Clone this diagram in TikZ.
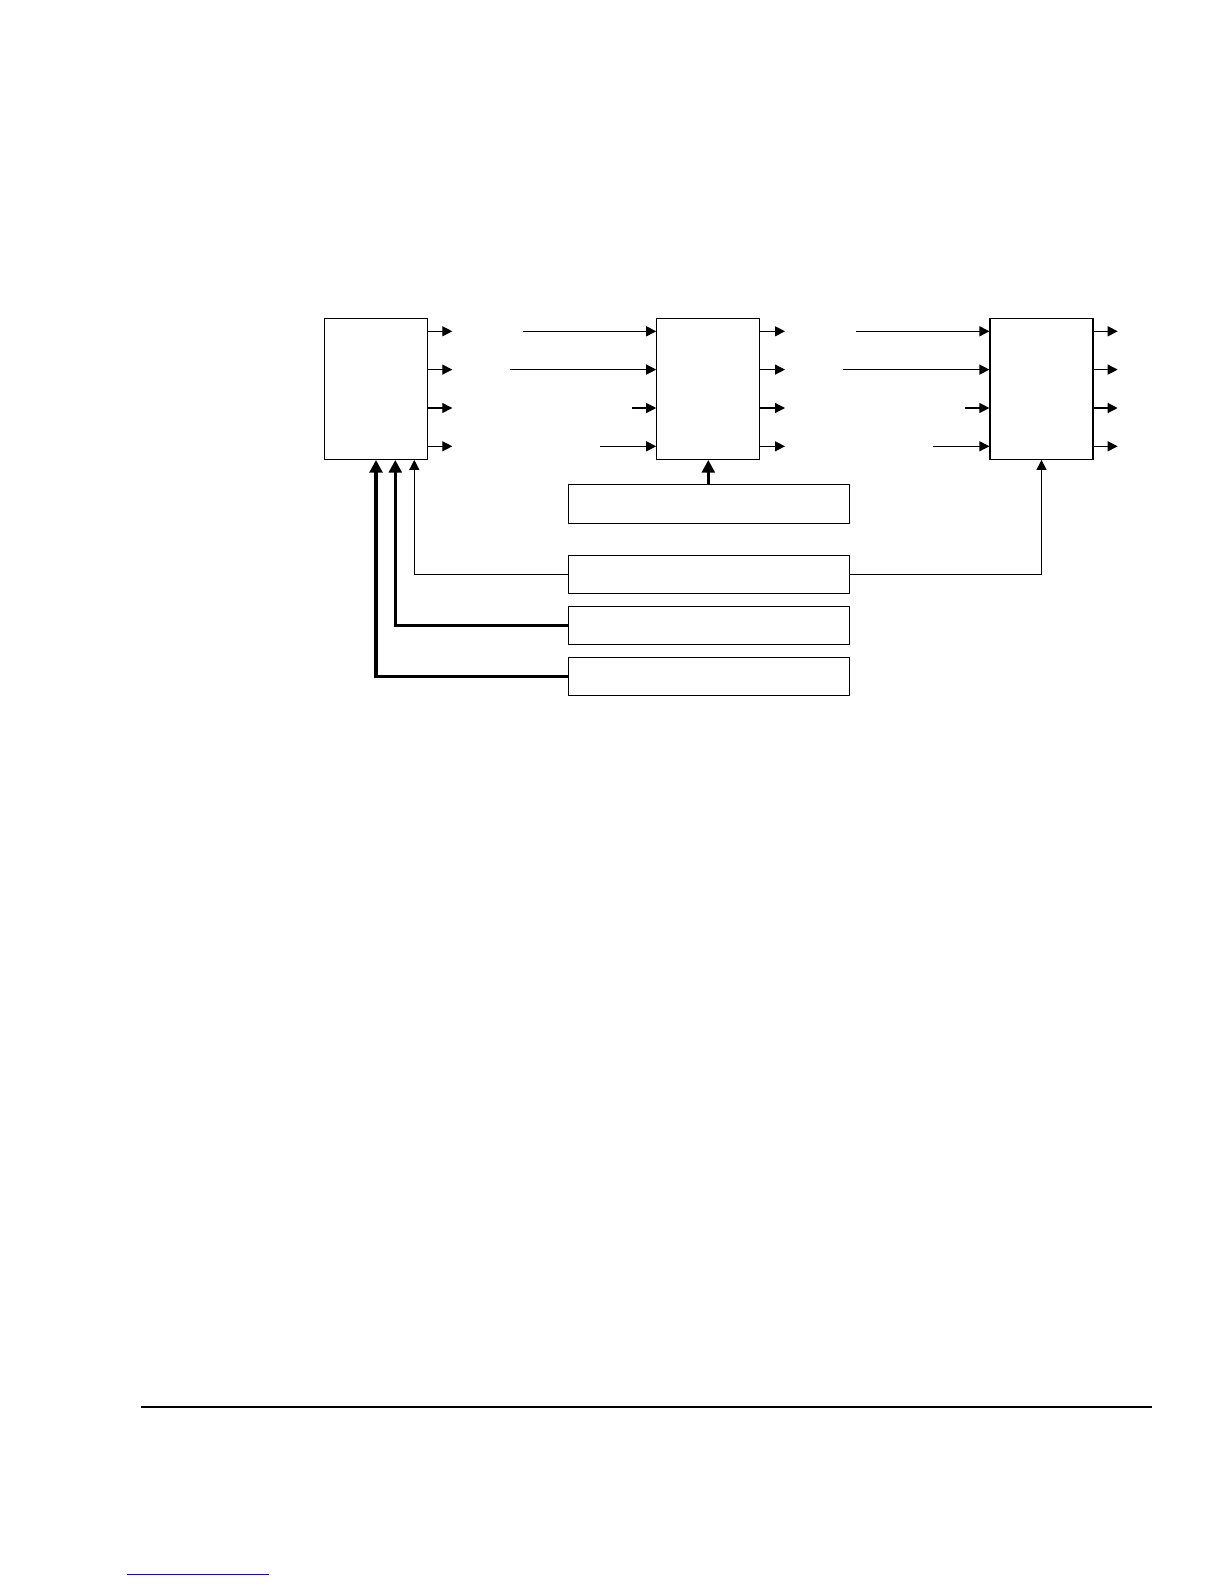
\documentclass[tikz,border=0pt]{standalone}
\usetikzlibrary{arrows.meta}
\begin{document}
\begin{tikzpicture}[x=0.5pt,y=-0.5pt,
  blk/.style={draw,line width=0.6pt,inner sep=0pt,minimum width=51.5pt,minimum height=70.5pt},
  bar/.style={draw,line width=0.6pt,inner sep=0pt,minimum width=140.5pt,minimum height=19pt},
  thinarr/.style={line width=0.6pt,-{Triangle[length=5pt,width=5pt]}},
  thickarr/.style={line width=1.6pt,-{Triangle[length=6.3pt,width=6.3pt]}}]
\useasboundingbox (0,0) rectangle (1224,1584);
% main blocks
\node[blk] (b1) at (376,388.8) {};
\node[blk] (b2) at (708.3,388.8) {};
\node[blk] (b3) at (1041.5,388.8) {};
% bars
\node[bar,minimum height=19.6pt] (bA) at (708.8,503.7) {};
\node[bar] (bB) at (708.8,574.3) {};
\node[bar] (bC) at (708.8,625.3) {};
\node[bar] (bD) at (708.8,676.5) {};
% outputs
\foreach \yy [count=\i] in {331.3,369.6,408,446.3} {
  \coordinate (oa\i) at (452.3,\yy);
  \coordinate (ob\i) at (785,\yy);
  \coordinate (oc\i) at (1117.7,\yy);
  \draw[thinarr] (b1.east |- oa\i) -- (oa\i);
  \draw[thinarr] (b2.east |- ob\i) -- (ob\i);
  \draw[thinarr] (b3.east |- oc\i) -- (oc\i);
}
% inputs
\foreach \yy/\xa/\xb [count=\i] in {331.3/523/856,369.6/510/843.3,408/632.3/965.3,446.3/600/933} {
  \coordinate (ia\i) at (\xa,\yy);
  \coordinate (ib\i) at (\xb,\yy);
  \draw[thinarr] (ia\i) -- (b2.west |- ia\i);
  \draw[thinarr] (ib\i) -- (b3.west |- ib\i);
}
% control connectors
\draw[thickarr] (bA.north -| b2.south) -- (b2.south);
\draw[thinarr] (bB.west) -| ([xshift=19.15pt]b1.south);
\draw[thinarr] (bB.east) -| (b3.south);
\draw[thickarr] (bC.west) -| ([xshift=9.65pt]b1.south);
\draw[thickarr] (bD.west) -| (b1.south);
% page rule and link underline
\coordinate (r1) at (141,1407);
\coordinate (r2) at (1151.7,1407);
\draw[line width=0.7pt] (r1) -- (r2);
\coordinate (u1) at (127,1574.7);
\coordinate (u2) at (269,1574.7);
\definecolor{linkblue}{RGB}{20,20,150}
\draw[linkblue,line width=0.6pt] (u1) -- (u2);
\end{tikzpicture}
\end{document}
